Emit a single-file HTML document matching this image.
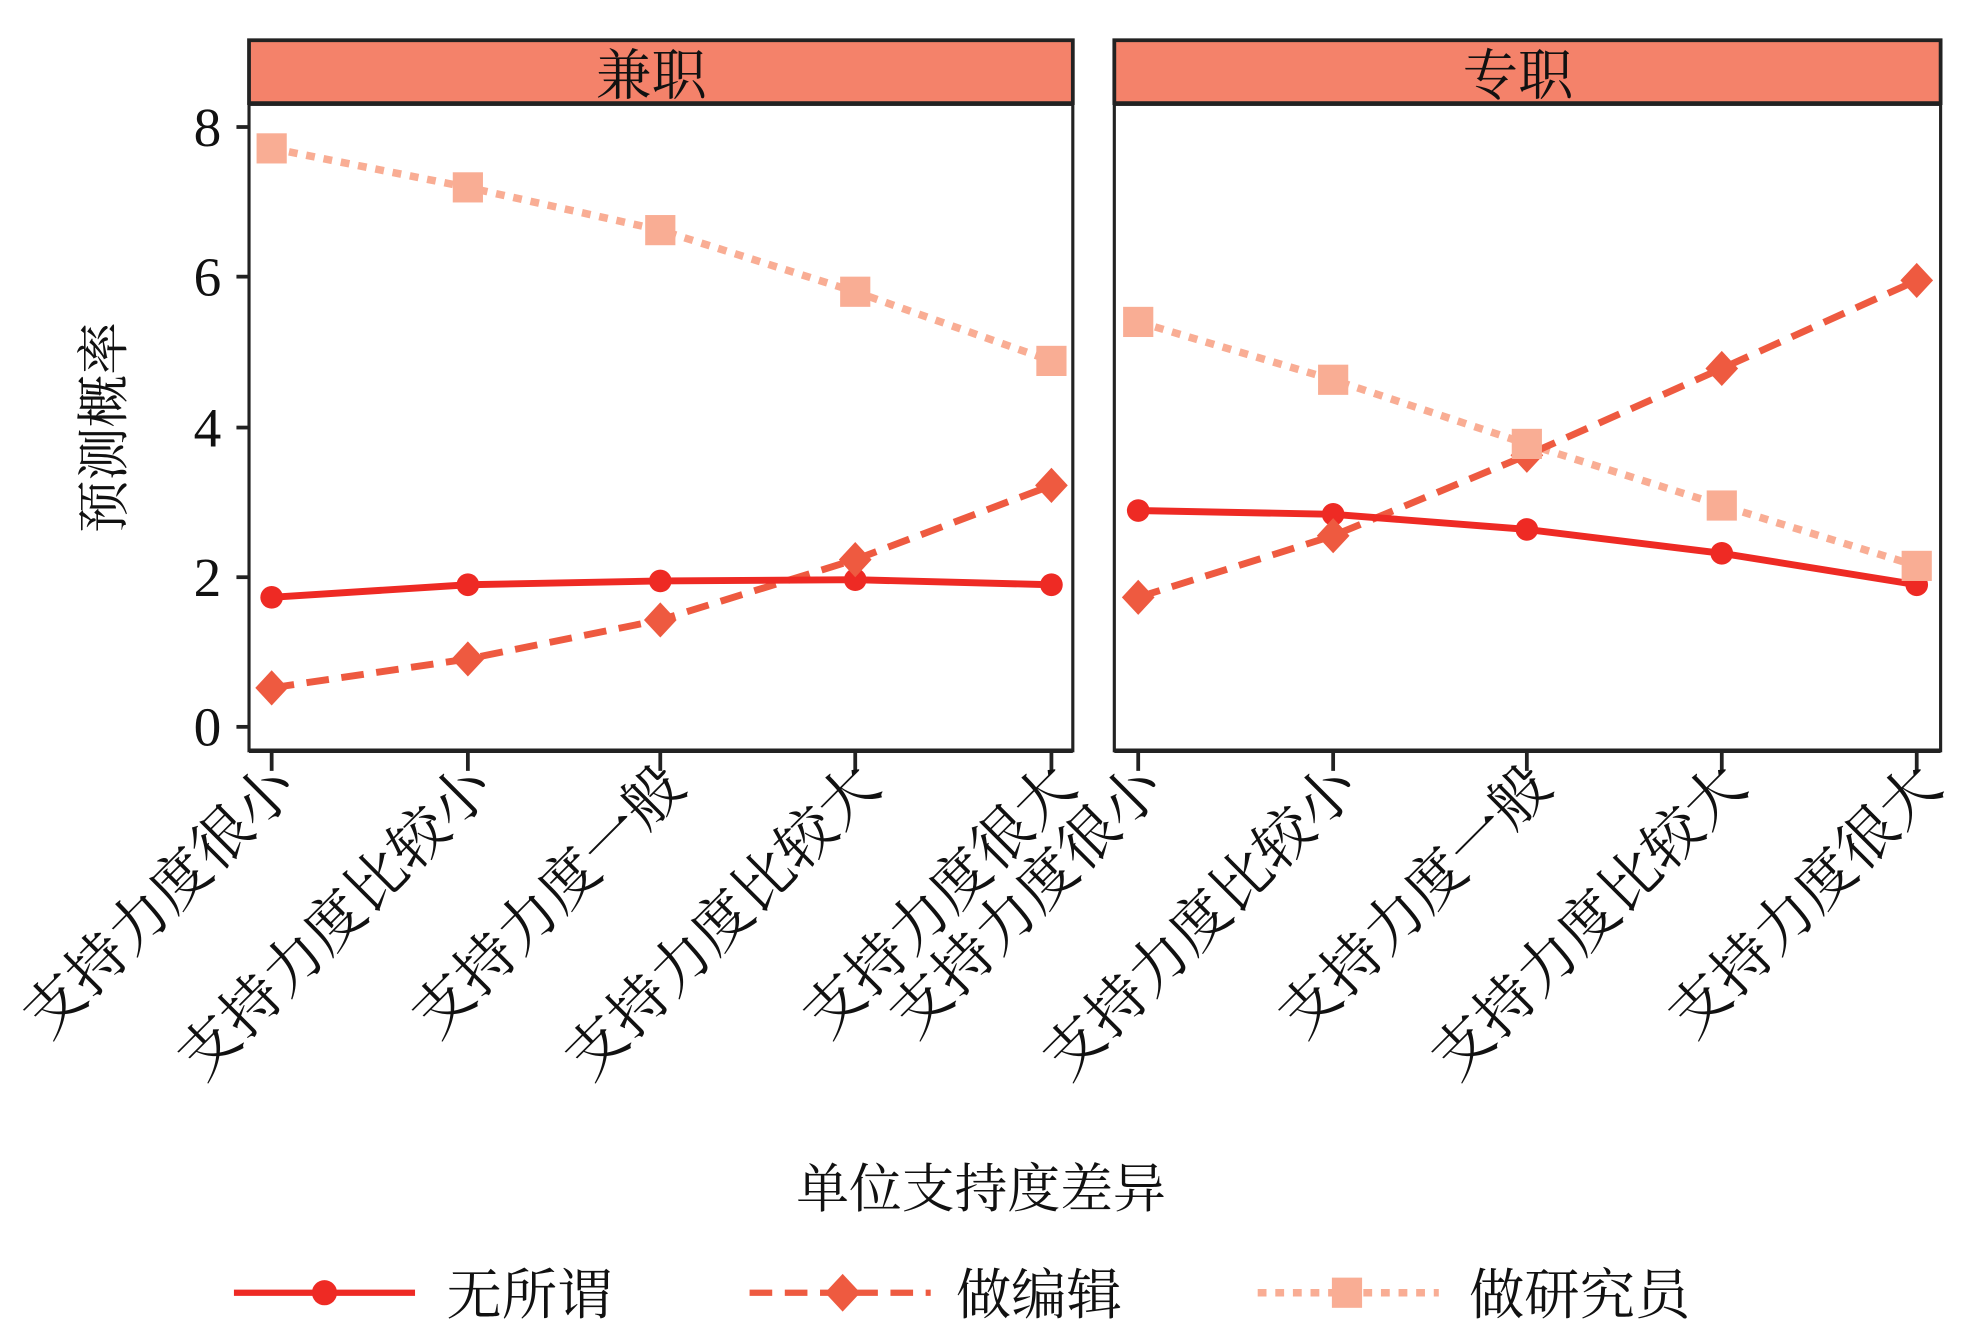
<!DOCTYPE html>
<html><head><meta charset="utf-8"><style>html,body{margin:0;padding:0;background:#fff}svg{display:block}</style></head>
<body>
<svg xmlns="http://www.w3.org/2000/svg" width="1962" height="1338" viewBox="0 0 1560 1064" preserveAspectRatio="none" font-family="'Liberation Serif','Noto Serif CJK SC',serif">
<rect width="1560" height="1064" fill="#fff"/>
<rect x="198" y="32" width="655" height="50" fill="#F4826A" stroke="#222" stroke-width="3"/>
<rect x="886" y="32" width="657" height="50" fill="#F4826A" stroke="#222" stroke-width="3"/>
<text x="518" y="75" font-size="44" text-anchor="middle" fill="#111">兼职</text>
<text x="1207" y="75" font-size="44" text-anchor="middle" fill="#111">专职</text>
<rect x="198" y="83" width="655" height="514" fill="none" stroke="#222" stroke-width="2.5"/>
<rect x="886" y="83" width="657" height="514" fill="none" stroke="#222" stroke-width="2.5"/>
<line x1="198" y1="597" x2="853" y2="597" stroke="#222" stroke-width="3.5"/>
<line x1="886" y1="597" x2="1543" y2="597" stroke="#222" stroke-width="3.5"/>
<g stroke="#222" stroke-width="3">
<line x1="188" y1="101" x2="198" y2="101"/><line x1="188" y1="220" x2="198" y2="220"/><line x1="188" y1="340" x2="198" y2="340"/><line x1="188" y1="459" x2="198" y2="459"/><line x1="188" y1="578" x2="198" y2="578"/>
</g>
<g font-size="44" text-anchor="end" fill="#111">
<text x="176" y="116">8</text><text x="176" y="235">6</text><text x="176" y="355">4</text><text x="176" y="474">2</text><text x="176" y="593">0</text>
</g>
<g stroke="#222" stroke-width="3">
<line x1="216" y1="597" x2="216" y2="613"/><line x1="372" y1="597" x2="372" y2="613"/><line x1="525" y1="597" x2="525" y2="613"/><line x1="680" y1="597" x2="680" y2="613"/><line x1="836" y1="597" x2="836" y2="613"/>
<line x1="905" y1="597" x2="905" y2="613"/><line x1="1060" y1="597" x2="1060" y2="613"/><line x1="1214" y1="597" x2="1214" y2="613"/><line x1="1369" y1="597" x2="1369" y2="613"/><line x1="1524" y1="597" x2="1524" y2="613"/>
</g>
<g font-size="47" text-anchor="end" fill="#111">
<text transform="translate(238,628) rotate(-45)">支持力度很小</text>
<text transform="translate(394,628) rotate(-45)">支持力度比较小</text>
<text transform="translate(547,628) rotate(-45)">支持力度一般</text>
<text transform="translate(702,628) rotate(-45)">支持力度比较大</text>
<text transform="translate(858,628) rotate(-45)">支持力度很大</text>
<text transform="translate(927,628) rotate(-45)">支持力度很小</text>
<text transform="translate(1082,628) rotate(-45)">支持力度比较小</text>
<text transform="translate(1236,628) rotate(-45)">支持力度一般</text>
<text transform="translate(1391,628) rotate(-45)">支持力度比较大</text>
<text transform="translate(1546,628) rotate(-45)">支持力度很大</text>
</g>
<text transform="translate(97,340) rotate(-90)" font-size="42" text-anchor="middle" fill="#111">预测概率</text>
<text x="780" y="960" font-size="42" text-anchor="middle" fill="#111">单位支持度差异</text>
<polyline points="216,118 372,149 525,183 680,232 836,287" fill="none" stroke="#F9AD94" stroke-width="6" stroke-dasharray="7,7"/>
<polyline points="216,547 372,524 525,493 680,445 836,386" fill="none" stroke="#EE5A40" stroke-width="5.5" stroke-dasharray="18,10"/>
<polyline points="216,475 372,465 525,462 680,461 836,465" fill="none" stroke="#EE2A24" stroke-width="5.5"/>
<polyline points="905,256 1060,302 1214,353 1369,402 1524,450" fill="none" stroke="#F9AD94" stroke-width="6" stroke-dasharray="7,7"/>
<polyline points="905,475 1060,426 1214,362 1369,293 1524,223" fill="none" stroke="#EE5A40" stroke-width="5.5" stroke-dasharray="18,10"/>
<polyline points="905,406 1060,409 1214,421 1369,440 1524,465" fill="none" stroke="#EE2A24" stroke-width="5.5"/>
<g fill="#EE2A24">
<circle cx="216" cy="475" r="9"/><circle cx="372" cy="465" r="9"/><circle cx="525" cy="462" r="9"/><circle cx="680" cy="461" r="9"/><circle cx="836" cy="465" r="9"/>
<circle cx="905" cy="406" r="9"/><circle cx="1060" cy="409" r="9"/><circle cx="1214" cy="421" r="9"/><circle cx="1369" cy="440" r="9"/><circle cx="1524" cy="465" r="9"/>
</g>
<g fill="#EE5A40">
<path d="M216,533 l13,14 -13,14 -13,-14z"/><path d="M372,510 l13,14 -13,14 -13,-14z"/><path d="M525,479 l13,14 -13,14 -13,-14z"/><path d="M680,431 l13,14 -13,14 -13,-14z"/><path d="M836,372 l13,14 -13,14 -13,-14z"/>
<path d="M905,461 l13,14 -13,14 -13,-14z"/><path d="M1060,412 l13,14 -13,14 -13,-14z"/><path d="M1214,348 l13,14 -13,14 -13,-14z"/><path d="M1369,279 l13,14 -13,14 -13,-14z"/><path d="M1524,209 l13,14 -13,14 -13,-14z"/>
</g>
<g fill="#F9AD94">
<rect x="204" y="106" width="24" height="24"/><rect x="360" y="137" width="24" height="24"/><rect x="513" y="171" width="24" height="24"/><rect x="668" y="220" width="24" height="24"/><rect x="824" y="275" width="24" height="24"/>
<rect x="893" y="244" width="24" height="24"/><rect x="1048" y="290" width="24" height="24"/><rect x="1202" y="341" width="24" height="24"/><rect x="1357" y="390" width="24" height="24"/><rect x="1512" y="438" width="24" height="24"/>
</g>
<line x1="186" y1="1028" x2="330" y2="1028" stroke="#EE2A24" stroke-width="5"/>
<circle cx="258" cy="1028" r="10" fill="#EE2A24"/>
<text x="355" y="1045" font-size="44" fill="#111">无所谓</text>
<line x1="596" y1="1028" x2="740" y2="1028" stroke="#EE5A40" stroke-width="5" stroke-dasharray="18,10"/>
<path d="M670,1013 l14,15 -14,15 -14,-15z" fill="#EE5A40"/>
<text x="760" y="1045" font-size="44" fill="#111">做编辑</text>
<line x1="1000" y1="1028" x2="1144" y2="1028" stroke="#F9AD94" stroke-width="6" stroke-dasharray="7,7"/>
<rect x="1059" y="1016" width="24" height="24" fill="#F9AD94"/>
<text x="1168" y="1045" font-size="44" fill="#111">做研究员</text>
</svg>
</body></html>
